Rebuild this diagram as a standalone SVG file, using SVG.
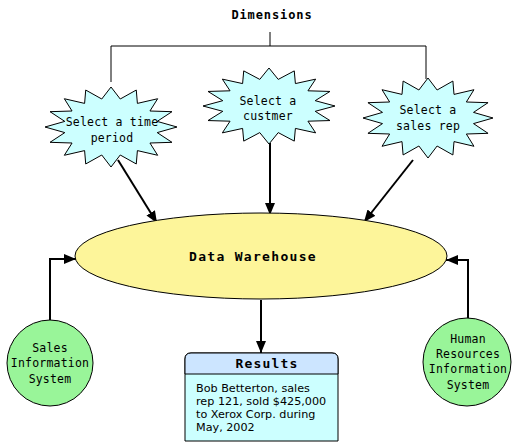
<svg xmlns="http://www.w3.org/2000/svg" width="516" height="448" viewBox="0 0 516 448">
<style>
.lbl{font-family:"DejaVu Sans Mono",monospace;font-size:11.5px;fill:#000;text-anchor:middle;letter-spacing:0.2px}
.bold{font-family:"DejaVu Sans Mono",monospace;font-weight:bold;fill:#000;text-anchor:middle}
.body{font-family:"DejaVu Sans",sans-serif;font-size:11.2px;fill:#000}
.star{fill:#ccffff;stroke:#000;stroke-width:1}
.conn{fill:none;stroke:#000;stroke-width:2}
.thin{fill:none;stroke:#000;stroke-width:1}
</style>
<defs>
<polygon id="starShape" class="star" vector-effect="non-scaling-stroke" points="0,-100 14,-70 38.3,-92.4 40,-59 70.7,-70.7 59,-40 92.4,-38.3 70,-14 100,0 70,14 92.4,38.3 59,40 70.7,70.7 40,59 38.3,92.4 14,70 0,100 -14,70 -38.3,92.4 -40,59 -70.7,70.7 -59,40 -92.4,38.3 -70,14 -100,0 -70,-14 -92.4,-38.3 -59,-40 -70.7,-70.7 -40,-59 -38.3,-92.4 -14,-70"/>
<marker id="arr" markerUnits="userSpaceOnUse" viewBox="0 0 12 10" refX="12" refY="5" markerWidth="12" markerHeight="10" orient="auto">
<path d="M0,0 L12,5 L0,10 z" fill="#000"/>
</marker>
</defs>
<rect width="516" height="448" fill="#fff"/>

<g id="dimensions">
<text class="bold" x="272" y="19" font-size="12" letter-spacing="0.9">Dimensions</text>
</g>

<g id="connectors">
<path class="thin" d="M270,32 V46 M111,46 H426 M111,46 V82 M426,46 V79"/>
<line class="conn" x1="118" y1="160" x2="157" y2="223" marker-end="url(#arr)"/>
<line class="conn" x1="270" y1="143" x2="270" y2="215" marker-end="url(#arr)"/>
<line class="conn" x1="413" y1="160" x2="364" y2="222" marker-end="url(#arr)"/>
<path class="conn" d="M50,320 V259 H76" marker-end="url(#arr)"/>
<path class="conn" d="M468,318 V260 H446" marker-end="url(#arr)"/>
<line class="conn" x1="261" y1="300" x2="261" y2="353" marker-end="url(#arr)"/>
</g>

<g id="star-time">
<use href="#starShape" transform="translate(111,127) scale(0.66,0.40)"/>
<text class="lbl" x="112" y="126">Select a time</text>
<text class="lbl" x="112" y="142">period</text>
</g>

<g id="star-customer">
<use href="#starShape" transform="translate(269,106) scale(0.66,0.38)"/>
<text class="lbl" x="268" y="105">Select a</text>
<text class="lbl" x="268" y="120">custmer</text>
</g>

<g id="star-salesrep">
<use href="#starShape" transform="translate(428,118) scale(0.65,0.40)"/>
<text class="lbl" x="428" y="114">Select a</text>
<text class="lbl" x="428" y="130">sales rep</text>
</g>

<g id="warehouse">
<ellipse cx="261" cy="256" rx="186" ry="43" fill="#fdf59a" stroke="#000" stroke-width="1"/>
<text class="bold" x="253" y="261" font-size="13" letter-spacing="1.3">Data Warehouse</text>
</g>

<g id="sales-info">
<circle cx="50" cy="363" r="43" fill="#99f599" stroke="#000" stroke-width="1"/>
<text class="lbl" x="50" y="352">Sales</text>
<text class="lbl" x="50" y="367">Information</text>
<text class="lbl" x="50" y="383">System</text>
</g>

<g id="hr-info">
<circle cx="467" cy="362" r="44" fill="#99f599" stroke="#000" stroke-width="1"/>
<text class="lbl" x="468" y="343">Human</text>
<text class="lbl" x="468" y="358">Resources</text>
<text class="lbl" x="468" y="373">Information</text>
<text class="lbl" x="468" y="389">System</text>
</g>

<g id="results">
<path d="M185,441 V359 Q185,353 191,353 H332 Q338,353 338,359 V441 Z" fill="#ccffff" stroke="#000" stroke-width="1"/>
<path d="M185,374 V359 Q185,353 191,353 H332 Q338,353 338,359 V374 Z" fill="#cce5ff" stroke="#000" stroke-width="1"/>
<text class="bold" x="267" y="368" font-size="13" letter-spacing="1.2">Results</text>
<text class="body" x="196" y="392">Bob Betterton, sales</text>
<text class="body" x="196" y="405">rep 121, sold $425,000</text>
<text class="body" x="196" y="418">to Xerox Corp. during</text>
<text class="body" x="196" y="431">May, 2002</text>
</g>
</svg>
